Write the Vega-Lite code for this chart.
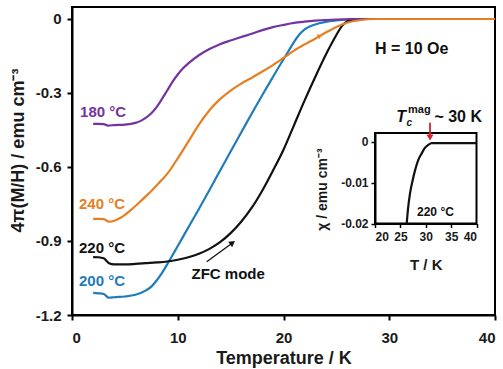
{
  "$schema": "https://vega.github.io/schema/vega-lite/v6.json",
  "width": 423,
  "height": 308,
  "autosize": {"type": "none"},
  "padding": {"left": 72, "top": 7, "right": 8, "bottom": 54},
  "background": "white",
  "config": {
    "font": "Liberation Sans",
    "view": {"stroke": "black", "strokeWidth": 2},
    "axis": {
      "grid": false,
      "domainColor": "black",
      "domainWidth": 2,
      "tickColor": "black",
      "tickWidth": 2,
      "tickSize": 5,
      "labelFont": "Liberation Sans",
      "labelFontWeight": "bold",
      "labelFontSize": 15,
      "labelColor": "#1a1a1a",
      "titleFont": "Liberation Sans",
      "titleFontWeight": "bold",
      "titleFontSize": 18,
      "titleColor": "#1a1a1a"
    }
  },
  "datasets": {
    "main": [
      {"s": "200 °C", "T": 2, "v": -1.11}, {"s": "200 °C", "T": 2.5, "v": -1.112}, {"s": "200 °C", "T": 3, "v": -1.115}, {"s": "200 °C", "T": 3.5, "v": -1.13}, {"s": "200 °C", "T": 4, "v": -1.128}, {"s": "200 °C", "T": 5, "v": -1.125}, {"s": "200 °C", "T": 6, "v": -1.118}, {"s": "200 °C", "T": 7, "v": -1.1}, {"s": "200 °C", "T": 7.5, "v": -1.085}, {"s": "200 °C", "T": 8, "v": -1.06}, {"s": "200 °C", "T": 8.5, "v": -1.03}, {"s": "200 °C", "T": 9, "v": -0.995}, {"s": "200 °C", "T": 9.5, "v": -0.958}, {"s": "200 °C", "T": 10, "v": -0.92}, {"s": "200 °C", "T": 11, "v": -0.845}, {"s": "200 °C", "T": 12, "v": -0.77}, {"s": "200 °C", "T": 13, "v": -0.693}, {"s": "200 °C", "T": 14, "v": -0.615}, {"s": "200 °C", "T": 15, "v": -0.537}, {"s": "200 °C", "T": 16, "v": -0.46}, {"s": "200 °C", "T": 17, "v": -0.383}, {"s": "200 °C", "T": 18, "v": -0.308}, {"s": "200 °C", "T": 19, "v": -0.235}, {"s": "200 °C", "T": 20, "v": -0.163}, {"s": "200 °C", "T": 20.5, "v": -0.128}, {"s": "200 °C", "T": 21, "v": -0.093}, {"s": "200 °C", "T": 21.5, "v": -0.063}, {"s": "200 °C", "T": 22, "v": -0.042}, {"s": "200 °C", "T": 23, "v": -0.022}, {"s": "200 °C", "T": 24, "v": -0.012}, {"s": "200 °C", "T": 25, "v": -0.006}, {"s": "200 °C", "T": 26, "v": -0.002}, {"s": "200 °C", "T": 27, "v": 0}, {"s": "200 °C", "T": 40, "v": 0},
      {"s": "220 °C", "T": 2, "v": -0.965}, {"s": "220 °C", "T": 2.5, "v": -0.966}, {"s": "220 °C", "T": 3, "v": -0.97}, {"s": "220 °C", "T": 3.5, "v": -0.99}, {"s": "220 °C", "T": 4, "v": -0.995}, {"s": "220 °C", "T": 5, "v": -0.995}, {"s": "220 °C", "T": 6, "v": -0.993}, {"s": "220 °C", "T": 7, "v": -0.99}, {"s": "220 °C", "T": 8, "v": -0.987}, {"s": "220 °C", "T": 9, "v": -0.983}, {"s": "220 °C", "T": 10, "v": -0.976}, {"s": "220 °C", "T": 11, "v": -0.966}, {"s": "220 °C", "T": 12, "v": -0.952}, {"s": "220 °C", "T": 13, "v": -0.932}, {"s": "220 °C", "T": 14, "v": -0.905}, {"s": "220 °C", "T": 15, "v": -0.868}, {"s": "220 °C", "T": 16, "v": -0.822}, {"s": "220 °C", "T": 17, "v": -0.765}, {"s": "220 °C", "T": 18, "v": -0.695}, {"s": "220 °C", "T": 19, "v": -0.615}, {"s": "220 °C", "T": 20, "v": -0.53}, {"s": "220 °C", "T": 21, "v": -0.43}, {"s": "220 °C", "T": 22, "v": -0.33}, {"s": "220 °C", "T": 23, "v": -0.235}, {"s": "220 °C", "T": 24, "v": -0.145}, {"s": "220 °C", "T": 25, "v": -0.065}, {"s": "220 °C", "T": 25.5, "v": -0.03}, {"s": "220 °C", "T": 26, "v": -0.01}, {"s": "220 °C", "T": 26.5, "v": -0.003}, {"s": "220 °C", "T": 27, "v": 0}, {"s": "220 °C", "T": 40, "v": 0},
      {"s": "180 °C", "T": 2, "v": -0.425}, {"s": "180 °C", "T": 2.5, "v": -0.425}, {"s": "180 °C", "T": 3, "v": -0.426}, {"s": "180 °C", "T": 3.4, "v": -0.432}, {"s": "180 °C", "T": 4, "v": -0.43}, {"s": "180 °C", "T": 5, "v": -0.428}, {"s": "180 °C", "T": 6, "v": -0.421}, {"s": "180 °C", "T": 6.5, "v": -0.413}, {"s": "180 °C", "T": 7, "v": -0.4}, {"s": "180 °C", "T": 7.5, "v": -0.382}, {"s": "180 °C", "T": 8, "v": -0.357}, {"s": "180 °C", "T": 8.5, "v": -0.325}, {"s": "180 °C", "T": 9, "v": -0.29}, {"s": "180 °C", "T": 9.5, "v": -0.255}, {"s": "180 °C", "T": 10, "v": -0.225}, {"s": "180 °C", "T": 10.5, "v": -0.2}, {"s": "180 °C", "T": 11, "v": -0.18}, {"s": "180 °C", "T": 12, "v": -0.147}, {"s": "180 °C", "T": 13, "v": -0.122}, {"s": "180 °C", "T": 14, "v": -0.102}, {"s": "180 °C", "T": 15, "v": -0.087}, {"s": "180 °C", "T": 16, "v": -0.073}, {"s": "180 °C", "T": 17, "v": -0.06}, {"s": "180 °C", "T": 18, "v": -0.045}, {"s": "180 °C", "T": 19, "v": -0.033}, {"s": "180 °C", "T": 20, "v": -0.024}, {"s": "180 °C", "T": 21, "v": -0.016}, {"s": "180 °C", "T": 22, "v": -0.011}, {"s": "180 °C", "T": 23, "v": -0.007}, {"s": "180 °C", "T": 24, "v": -0.004}, {"s": "180 °C", "T": 25, "v": -0.002}, {"s": "180 °C", "T": 26, "v": -0.001}, {"s": "180 °C", "T": 27, "v": 0}, {"s": "180 °C", "T": 40, "v": 0},
      {"s": "240 °C", "T": 2, "v": -0.81}, {"s": "240 °C", "T": 2.5, "v": -0.81}, {"s": "240 °C", "T": 3, "v": -0.811}, {"s": "240 °C", "T": 3.5, "v": -0.822}, {"s": "240 °C", "T": 4, "v": -0.818}, {"s": "240 °C", "T": 4.5, "v": -0.808}, {"s": "240 °C", "T": 5, "v": -0.794}, {"s": "240 °C", "T": 5.5, "v": -0.777}, {"s": "240 °C", "T": 6, "v": -0.758}, {"s": "240 °C", "T": 6.5, "v": -0.738}, {"s": "240 °C", "T": 7, "v": -0.718}, {"s": "240 °C", "T": 7.5, "v": -0.697}, {"s": "240 °C", "T": 8, "v": -0.675}, {"s": "240 °C", "T": 8.5, "v": -0.652}, {"s": "240 °C", "T": 9, "v": -0.628}, {"s": "240 °C", "T": 10, "v": -0.565}, {"s": "240 °C", "T": 11, "v": -0.497}, {"s": "240 °C", "T": 12, "v": -0.428}, {"s": "240 °C", "T": 13, "v": -0.37}, {"s": "240 °C", "T": 14, "v": -0.325}, {"s": "240 °C", "T": 15, "v": -0.29}, {"s": "240 °C", "T": 16, "v": -0.262}, {"s": "240 °C", "T": 17, "v": -0.238}, {"s": "240 °C", "T": 18, "v": -0.213}, {"s": "240 °C", "T": 19, "v": -0.187}, {"s": "240 °C", "T": 20, "v": -0.158}, {"s": "240 °C", "T": 21, "v": -0.128}, {"s": "240 °C", "T": 22, "v": -0.103}, {"s": "240 °C", "T": 23, "v": -0.08}, {"s": "240 °C", "T": 24, "v": -0.055}, {"s": "240 °C", "T": 25, "v": -0.032}, {"s": "240 °C", "T": 26, "v": -0.015}, {"s": "240 °C", "T": 27, "v": -0.006}, {"s": "240 °C", "T": 28, "v": -0.001}, {"s": "240 °C", "T": 29, "v": 0}, {"s": "240 °C", "T": 40, "v": 0}
    ],
    "inset": [
      {"T": 26.25, "chi": -0.02}, {"T": 26.5, "chi": -0.0165}, {"T": 26.9, "chi": -0.0126}, {"T": 27.4, "chi": -0.0095}, {"T": 27.9, "chi": -0.0069}, {"T": 28.5, "chi": -0.0045}, {"T": 29.2, "chi": -0.0028}, {"T": 29.8, "chi": -0.0015}, {"T": 30.5, "chi": -0.0007}, {"T": 31.2, "chi": -0.0003}, {"T": 32, "chi": -0.0003}, {"T": 34, "chi": -0.0003}, {"T": 36, "chi": -0.0003}, {"T": 38, "chi": -0.0003}, {"T": 40, "chi": -0.0003}
    ]
  },
  "layer": [
    {
      "layer": [
        {
          "data": {"name": "main"},
          "mark": {"type": "line", "strokeWidth": 2.2, "interpolate": "monotone"},
          "encoding": {
            "x": {"field": "T", "type": "quantitative",
              "scale": {"domain": [0, 40], "nice": false, "zero": false},
              "axis": {"values": [0, 10, 20, 30, 40], "labelPadding": 10, "title": "Temperature / K", "titleBaseline": "alphabetic", "titleY": 48}},
            "y": {"field": "v", "type": "quantitative",
              "scale": {"domain": [-1.2, 0.0486], "nice": false, "zero": false},
              "axis": {"values": [-1.2, -0.9, -0.6, -0.3, 0], "labelExpr": "toString(datum.value)", "labelPadding": 6, "title": "4π(M/H) / emu cm⁻³", "titleAngle": 270, "titleBaseline": "middle", "titleAlign": "center", "titleX": -54, "titleY": 143}},
            "color": {"field": "s", "type": "nominal",
              "scale": {"domain": ["180 °C", "200 °C", "220 °C", "240 °C"], "range": ["#7434a0", "#1f7cba", "#111111", "#e67e22"]},
              "legend": null}
          }
        },
        {"data": {"values": [{}]}, "mark": {"type": "text", "align": "left", "baseline": "middle", "fontWeight": "bold", "fontSize": 15, "color": "#7434a0"},
          "encoding": {"x": {"datum": 0.76}, "y": {"datum": -0.379}, "text": {"value": "180 °C"}}},
        {"data": {"values": [{}]}, "mark": {"type": "text", "align": "left", "baseline": "middle", "fontWeight": "bold", "fontSize": 15, "color": "#e67e22"},
          "encoding": {"x": {"datum": 0.66}, "y": {"datum": -0.752}, "text": {"value": "240 °C"}}},
        {"data": {"values": [{}]}, "mark": {"type": "text", "align": "left", "baseline": "middle", "fontWeight": "bold", "fontSize": 15, "color": "#111111"},
          "encoding": {"x": {"datum": 0.66}, "y": {"datum": -0.928}, "text": {"value": "220 °C"}}},
        {"data": {"values": [{}]}, "mark": {"type": "text", "align": "left", "baseline": "middle", "fontWeight": "bold", "fontSize": 15, "color": "#1f7cba"},
          "encoding": {"x": {"datum": 0.66}, "y": {"datum": -1.062}, "text": {"value": "200 °C"}}},
        {"data": {"values": [{}]}, "mark": {"type": "text", "align": "left", "baseline": "middle", "fontWeight": "bold", "fontSize": 15, "color": "#111111"},
          "encoding": {"x": {"datum": 11.3}, "y": {"datum": -1.034}, "text": {"value": "ZFC mode"}}},
        {"data": {"values": [{}]}, "mark": {"type": "text", "align": "left", "baseline": "middle", "fontWeight": "bold", "fontSize": 16, "color": "#111111"},
          "encoding": {"x": {"datum": 28.65}, "y": {"datum": -0.122}, "text": {"value": "H = 10 Oe"}}},
        {"data": {"values": [{}]}, "mark": {"type": "rule", "strokeWidth": 1.3, "color": "#111111"},
          "encoding": {"x": {"datum": 12.74}, "y": {"datum": -0.984}, "x2": {"datum": 15.1}, "y2": {"datum": -0.91}}},
        {"data": {"values": [{}]}, "mark": {"type": "point", "shape": "triangle-up", "filled": true, "size": 45, "angle": 54, "color": "#111111", "opacity": 1},
          "encoding": {"x": {"datum": 15.18}, "y": {"datum": -0.907}}},
        {"data": {"values": [{}]}, "mark": {"type": "point", "shape": "triangle-up", "filled": true, "size": 30, "angle": 62, "color": "#e67e22", "opacity": 1},
          "encoding": {"x": {"datum": 23.45}, "y": {"datum": -0.068}}}
      ]
    },
    {
      "layer": [
        {"data": {"values": [{}]}, "mark": {"type": "rect", "fill": "white", "fillOpacity": 0, "stroke": "black", "strokeWidth": 2},
          "encoding": {
            "x": {"datum": 20, "type": "quantitative",
              "scale": {"domain": [20, 40], "range": [303, 404.5], "nice": false, "zero": false},
              "axis": {"orient": "bottom", "offset": -91.5, "values": [20, 25, 30, 35, 40], "labelFontSize": 12, "labelPadding": 4, "tickSize": 4, "tickWidth": 1.5, "title": "T / K", "titleFontSize": 15, "titleBaseline": "alphabetic", "titleY": 46}},
            "x2": {"datum": 40},
            "y": {"datum": -0.02, "type": "quantitative",
              "scale": {"domain": [-0.02, 0.0022], "range": [216.5, 126], "nice": false, "zero": false},
              "axis": {"orient": "left", "offset": -303, "values": [-0.02, -0.01, 0], "labelExpr": "toString(datum.value)", "labelFontSize": 12, "labelPadding": 3, "tickSize": 4, "tickWidth": 1.5, "title": "χ / emu cm⁻³", "titleFontSize": 14, "titleAngle": 270, "titleBaseline": "middle", "titleAlign": "center", "titleX": -53, "titleY": 182}},
            "y2": {"datum": 0.0022}
          }},
        {"data": {"name": "inset"}, "mark": {"type": "line", "color": "#111111", "strokeWidth": 2.2, "interpolate": "monotone"},
          "encoding": {"x": {"field": "T", "type": "quantitative"}, "y": {"field": "chi", "type": "quantitative"}}},
        {"data": {"values": [{}]}, "mark": {"type": "text", "align": "left", "baseline": "middle", "fontWeight": "bold", "fontSize": 12, "color": "#111111"},
          "encoding": {"x": {"datum": 28.28}, "y": {"datum": -0.0172}, "text": {"value": "220 °C"}}},
        {"data": {"values": [{}]}, "mark": {"type": "text", "align": "left", "baseline": "middle", "fontWeight": "bold", "fontStyle": "italic", "fontSize": 16, "color": "#111111"},
          "encoding": {"x": {"datum": 24.2}, "y": {"datum": 0.0061}, "text": {"value": "T"}}},
        {"data": {"values": [{}]}, "mark": {"type": "text", "align": "left", "baseline": "middle", "fontWeight": "bold", "fontStyle": "italic", "fontSize": 10, "color": "#111111"},
          "encoding": {"x": {"datum": 26.2}, "y": {"datum": 0.0047}, "text": {"value": "c"}}},
        {"data": {"values": [{}]}, "mark": {"type": "text", "align": "left", "baseline": "middle", "fontWeight": "bold", "fontSize": 11, "color": "#111111"},
          "encoding": {"x": {"datum": 26.5}, "y": {"datum": 0.0079}, "text": {"value": "mag"}}},
        {"data": {"values": [{}]}, "mark": {"type": "text", "align": "left", "baseline": "middle", "fontWeight": "bold", "fontSize": 16, "color": "#111111"},
          "encoding": {"x": {"datum": 31.7}, "y": {"datum": 0.0061}, "text": {"value": "~ 30 K"}}},
        {"data": {"values": [{}]}, "mark": {"type": "rule", "strokeWidth": 1.8, "color": "#d2232a"},
          "encoding": {"x": {"datum": 30.84}, "y": {"datum": 0.0047}, "y2": {"datum": 0.0015}}},
        {"data": {"values": [{}]}, "mark": {"type": "point", "shape": "triangle-down", "filled": true, "size": 50, "color": "#d2232a", "opacity": 1},
          "encoding": {"x": {"datum": 30.84}, "y": {"datum": 0.0011}}}
      ]
    }
  ],
  "resolve": {
    "scale": {"x": "independent", "y": "independent"},
    "axis": {"x": "independent", "y": "independent"}
  }
}
